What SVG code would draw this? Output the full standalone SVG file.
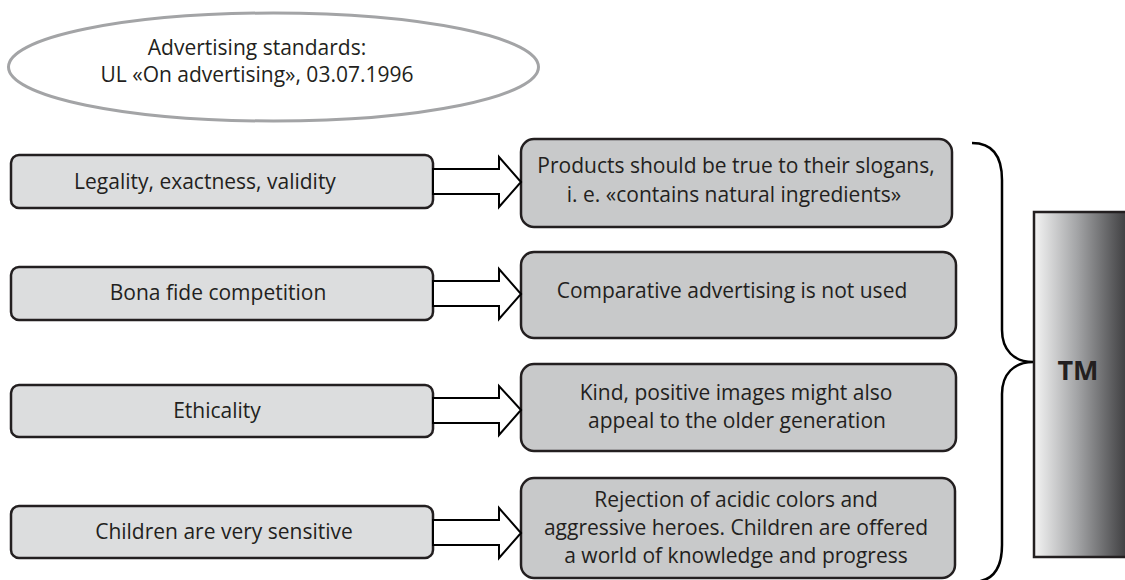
<svg xmlns="http://www.w3.org/2000/svg" width="1125" height="580" viewBox="0 0 1125 580">
<defs>
<linearGradient id="tmGrad" x1="0" y1="0" x2="1" y2="0">
<stop offset="0" stop-color="#f4f4f4"/>
<stop offset="0.45" stop-color="#a4a5a7"/>
<stop offset="1" stop-color="#3a3a3c"/>
</linearGradient>
<style>
text{font-family:"Open Sans","Liberation Sans",sans-serif;fill:#231f20;text-anchor:middle;}
.t{font-size:21px;}
.tm{font-size:27px;font-weight:bold;}
.lbox{fill:#dcddde;stroke:#231f20;stroke-width:2.5;}
.rbox{fill:#c8c9ca;stroke:#231f20;stroke-width:2.5;}
.arrow{fill:#ffffff;stroke:#000000;stroke-width:2;stroke-linejoin:miter;}
.brace{fill:none;stroke:#000000;stroke-width:2.5;}
</style>
</defs>
<rect width="1125" height="580" fill="#ffffff"/>

<g id="standards">
<ellipse cx="273.5" cy="67" rx="265" ry="54" fill="#ffffff" stroke="#a3a4a6" stroke-width="3"/>
<text class="t" x="257" y="55">Advertising standards:</text>
<text class="t" x="257" y="82">UL «On advertising», 03.07.1996</text>
</g>

<g id="left1">
<rect class="lbox" x="11" y="155" width="422" height="53" rx="8"/>
<text class="t" x="205" y="189">Legality, exactness, validity</text>
</g>
<g id="left2">
<rect class="lbox" x="11" y="267" width="422" height="53" rx="8"/>
<text class="t" x="218" y="300">Bona fide competition</text>
</g>
<g id="left3">
<rect class="lbox" x="11" y="385" width="422" height="52" rx="8"/>
<text class="t" x="217" y="418">Ethicality</text>
</g>
<g id="left4">
<rect class="lbox" x="11" y="506" width="422" height="52" rx="8"/>
<text class="t" x="224" y="539">Children are very sensitive</text>
</g>

<g id="right1">
<rect class="rbox" x="521" y="139" width="431" height="88" rx="13"/>
<text class="t" x="736" y="173">Products should be true to their slogans,</text>
<text class="t" x="734" y="202">i. e. «contains natural ingredients»</text>
</g>
<g id="right2">
<rect class="rbox" x="521" y="252" width="435" height="86" rx="13"/>
<text class="t" x="732" y="298">Comparative advertising is not used</text>
</g>
<g id="right3">
<rect class="rbox" x="521" y="364" width="435" height="87" rx="13"/>
<text class="t" x="736" y="400">Kind, positive images might also</text>
<text class="t" x="737" y="428">appeal to the older generation</text>
</g>
<g id="right4">
<rect class="rbox" x="521" y="478" width="434" height="100" rx="13"/>
<text class="t" x="736" y="507">Rejection of acidic colors and</text>
<text class="t" x="736" y="535">aggressive heroes. Children are offered</text>
<text class="t" x="736" y="563">a world of knowledge and progress</text>
</g>

<g id="tm">
<rect x="1034" y="212" width="95" height="345" fill="url(#tmGrad)" stroke="#231f20" stroke-width="2.5"/>
<text class="tm" x="1078" y="380">TM</text>
</g>

<g id="connectors">
<polygon class="arrow" points="433,169 499,169 499,157 521,182 499,207 499,194 433,194"/>
<polygon class="arrow" points="433,281 499,281 499,269 521,294 499,319 499,306 433,306"/>
<polygon class="arrow" points="433,398 499,398 499,386 521,410 499,435 499,423 433,423"/>
<polygon class="arrow" points="433,520 499,520 499,508 521,533 499,558 499,545 433,545"/>
<path class="brace" d="M972,143 C992,143 1002,156 1002,180 L1002,330 C1002,350 1014,362 1033,362 C1014,362 1002,374 1002,394 L1002,545 C1002,569 992,582 972,582"/>
</g>
</svg>
